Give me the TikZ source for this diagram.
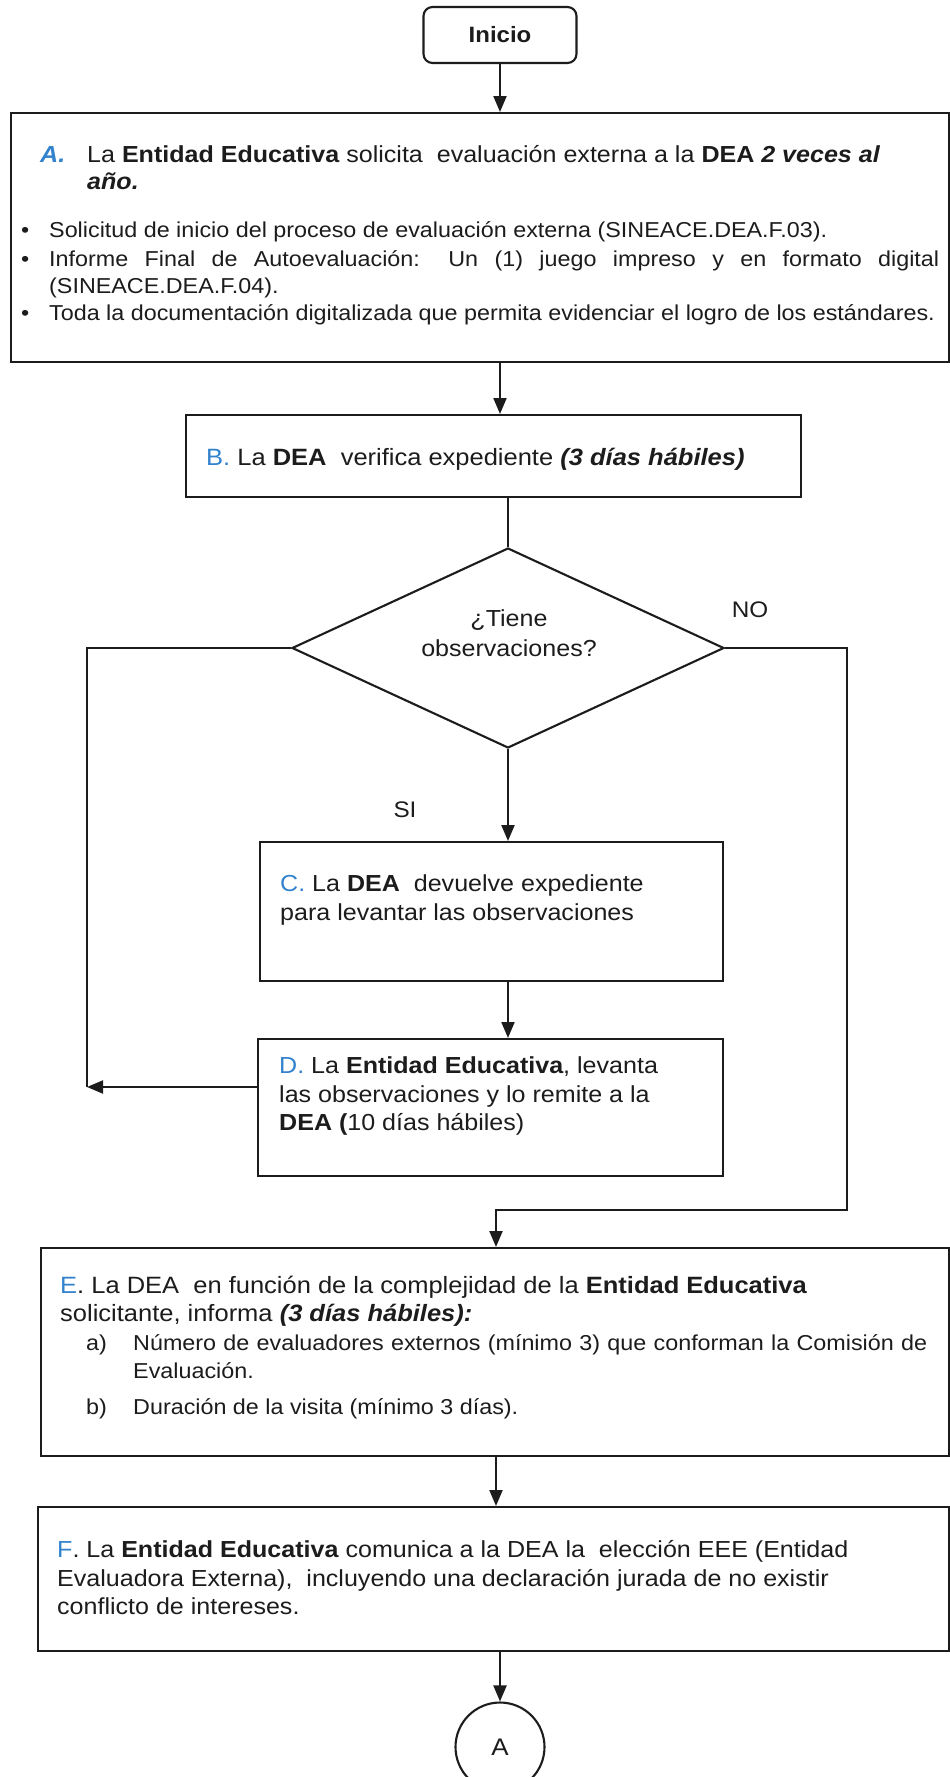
\documentclass[tikz,border=0pt]{standalone}
\usepackage{fontspec}
\setmainfont{Liberation Sans}[FakeStretch=1.08]
\usetikzlibrary{shapes.geometric,arrows.meta}
\definecolor{lblblue}{RGB}{50,130,205}
\definecolor{ink}{RGB}{28,28,28}
\begin{document}
\begin{tikzpicture}[x=1pt,y=-1pt,
  box/.style={draw=ink, line width=2.1pt, rectangle, inner sep=0pt, anchor=north west},
  conn/.style={draw=ink, line width=2.1pt},
  arr/.style={conn, -{Triangle[length=16pt,width=13pt]}},
  txt/.style={anchor=base west, inner sep=0pt, text=ink, font=\fontsize{23.2}{28}\selectfont},
  txtb/.style={anchor=base west, inner sep=0pt, text=ink, font=\fontsize{23.6}{28}\selectfont},
  small/.style={anchor=base west, inner sep=0pt, text=ink, font=\fontsize{21.6}{26}\selectfont},
  lbl/.style={inner sep=0pt, text=ink, font=\fontsize{22.5}{28}\selectfont},
]
\useasboundingbox (0,0) rectangle (950,1777);
\clip (0,0) rectangle (950,1777);
\fill[white] (0,0) rectangle (950,1777);

% ---- shapes
\node[draw=ink, line width=2.1pt, rounded corners=9pt, minimum width=153pt, minimum height=56pt,
      text=ink, font=\fontsize{22.2}{26}\selectfont\bfseries] (start) at (500,35) {Inicio};
\node[box, minimum width=938pt, minimum height=249pt] (A) at (10,112) {};
\node[box, minimum width=615pt, minimum height=82pt] (B) at (185,414) {};
\node[draw=ink, line width=2.1pt, diamond, aspect=2.16, inner sep=0pt,
      minimum width=432pt, minimum height=200pt] (dia) at (508,648) {};
\node[box, minimum width=463pt, minimum height=139pt] (C) at (259,841) {};
\node[box, minimum width=465pt, minimum height=137pt] (D) at (257,1038) {};
\node[box, minimum width=908pt, minimum height=208pt] (E) at (40,1247) {};
\node[box, minimum width=911pt, minimum height=144pt] (F) at (37,1506) {};
\node[draw=ink, line width=2.1pt, circle, minimum size=89pt, inner sep=0pt,
      text=ink, font=\fontsize{24}{28}\selectfont] (cA) at (500,1747) {A};

% ---- A text
\node[txt, text=lblblue, font=\fontsize{23.2}{28}\selectfont\bfseries\itshape] (Alab) at (40,162) {A.};
\node[txt] (A1) at (87,162) {La \textbf{Entidad Educativa} solicita\ \ evaluación externa a la \textbf{DEA \textit{2 veces al}}};
\node[txt] (A2) at (87,189) {\textbf{\textit{año.}}};
\node[small] (bd1) at (21,237) {•};
\node[small] (b1) at (49,237) {Solicitud de inicio del proceso de evaluación externa (SINEACE.DEA.F.03).};
\node[small] (bd2) at (21,266) {•};
\node[small] (b2) at (49,266) {\makebox[890pt][s]{Informe Final de Autoevaluación: Un (1) juego impreso y en formato digital}};
\node[small] (b2b) at (49,293) {(SINEACE.DEA.F.04).};
\node[small] (bd3) at (21,320) {•};
\node[small] (b3) at (49,320) {Toda la documentación digitalizada que permita evidenciar el logro de los estándares.};

% ---- B text
\node[txtb] (Bt) at (206,465) {\textcolor{lblblue}{B.} La \textbf{DEA}\ \ verifica expediente \textbf{\textit{(3 días hábiles)}}};

% ---- diamond text and labels
\node[inner sep=0pt, text=ink, align=center, font=\fontsize{23.2}{30}\selectfont] (diat) at (509,633) {¿Tiene\\observaciones?};
\node[lbl] (no) at (750,610) {NO};
\node[lbl] (si) at (405,810) {SI};

% ---- C text
\node[txt] (C1) at (280,891) {\textcolor{lblblue}{C.} La \textbf{DEA}\ \ devuelve expediente};
\node[txt] (C2) at (280,920) {para levantar las observaciones};

% ---- D text
\node[txt] (D1) at (279,1073) {\textcolor{lblblue}{D.} La \textbf{Entidad Educativa}, levanta};
\node[txt] (D2) at (279,1102) {las observaciones y lo remite a la};
\node[txt] (D3) at (279,1130) {\textbf{DEA (}10 días hábiles)};

% ---- E text
\node[txtb] (E1) at (60,1293) {\textcolor{lblblue}{E}. La DEA\ \ en función de la complejidad de la \textbf{Entidad Educativa}};
\node[txtb] (E2) at (60,1321) {solicitante, informa \textbf{\textit{(3 días hábiles):}}};
\node[small] (Ea) at (86,1350) {a)};
\node[small] (Ea1) at (133,1350) {\makebox[794pt][s]{Número de evaluadores externos (mínimo 3) que conforman la Comisión de}};
\node[small] (Ea2) at (133,1378) {Evaluación.};
\node[small] (Eb) at (86,1414) {b)};
\node[small] (Eb1) at (133,1414) {Duración de la visita (mínimo 3 días).};

% ---- F text
\node[txt] (F1) at (57,1557) {\textcolor{lblblue}{F}. La \textbf{Entidad Educativa} comunica a la DEA la\ \ elección EEE (Entidad};
\node[txt] (F2) at (57,1586) {Evaluadora Externa),\ \ incluyendo una declaración jurada de no existir};
\node[txt] (F3) at (57,1614) {conflicto de intereses.};

% ---- connectors
\coordinate (L) at (87,1087);
\coordinate (R) at (847,1210);
\coordinate (Rj) at (496,1210);
\draw[arr] (start.south) -- (start.south |- A.north);
\draw[arr] (start.south |- A.south) -- (start.south |- B.north);
\draw[conn] (B.south -| dia.north) -- (dia.north);
\draw[arr] (dia.south) -- (dia.south |- C.north);
\draw[arr] (C.south -| dia.south) -- (D.north -| dia.south);
\draw[conn] (dia.west) -| (L);
\draw[arr] (D.west |- L) -- (L);
\draw[arr] (dia.east) -| (R) -- (Rj) -- (Rj |- E.north);
\draw[arr] (Rj |- E.south) -- (Rj |- F.north);
\draw[arr] (cA.north |- F.south) -- (cA.north);
\end{tikzpicture}
\end{document}
